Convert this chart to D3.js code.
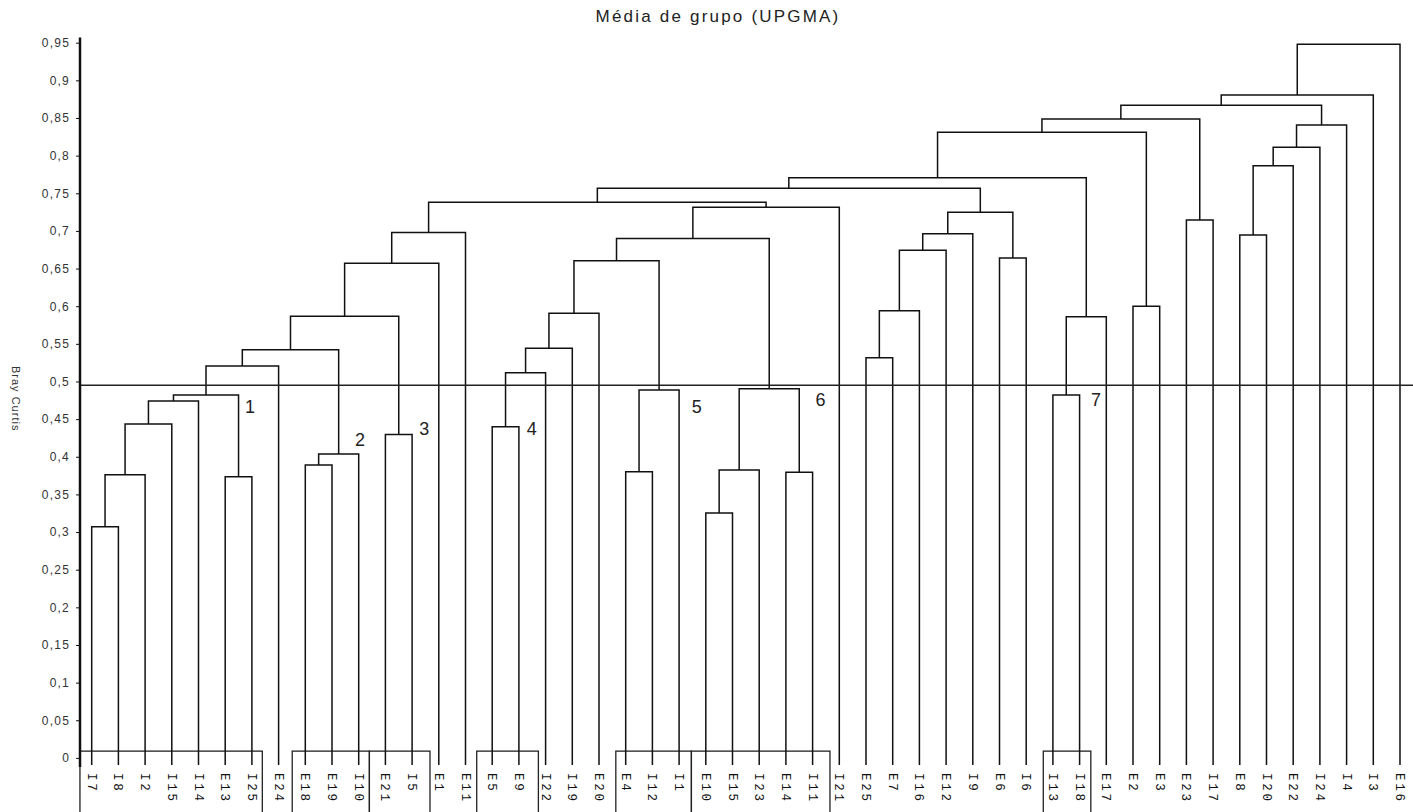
<!DOCTYPE html>
<html>
  <head>
    <meta charset="utf-8">
    <script type="text/javascript" src="https://cdn.jsdelivr.net/npm/d3@7"></script>
    <style>
      body {
        margin: 0;
        background: #fff;
      }
      .link {
        fill: none;
        stroke: #111;
        stroke-width: 1.5px;
      }
      .cut {
        stroke: #222;
        stroke-width: 1.4px;
      }
      .box {
        fill: none;
        stroke: #222;
        stroke-width: 1.3px;
      }
      .axis path,
      .axis line {
        stroke: #111;
      }
      .axis path {
        stroke-width: 2.5px;
      }
      .axis text {
        fill: #333;
        font: 12px 'Liberation Sans', Arial, sans-serif;
        letter-spacing: 1.2px;
      }
      .leaf {
        font: 12.5px 'Liberation Mono', 'Courier New', monospace;
        letter-spacing: 2.8px;
        fill: #111;
      }
      .grp {
        font: 18px 'Liberation Sans', Arial, sans-serif;
        fill: #222;
      }
      .title {
        font: 17px 'Liberation Sans', Arial, sans-serif;
        letter-spacing: 2.2px;
        fill: #222;
      }
      .ytitle {
        font: 11px 'Liberation Sans', Arial, sans-serif;
        letter-spacing: 1px;
        fill: #333;
      }
    </style>
  </head>
  <body>
    <svg id="chart"></svg>

    <script type="text/javascript">
      // leaf order along the bottom
      var leaves = ['I7', 'I8', 'I2', 'I15', 'I14', 'E13', 'I25', 'E24', 'E18', 'E19',
        'I10', 'E21', 'I5', 'E1', 'E11', 'E5', 'E9', 'I22', 'I19', 'E20',
        'E4', 'I12', 'I1', 'E10', 'E15', 'I23', 'E14', 'I11', 'I21', 'E25',
        'E7', 'I16', 'E12', 'I9', 'E6', 'I6', 'I13', 'I18', 'E17', 'E2',
        'E3', 'E23', 'I17', 'E8', 'I20', 'E22', 'I24', 'I4', 'I3', 'E16'];

      // agglomeration steps: a leaf name or the number of an earlier step
      var merges = [
        ['I7', 'I8'], [0, 'I2'], [1, 'I15'], [2, 'I14'], ['E13', 'I25'],
        [3, 4], [5, 'E24'], ['E18', 'E19'], [7, 'I10'], [6, 8],
        ['E21', 'I5'], [9, 10], [11, 'E1'], [12, 'E11'], ['E5', 'E9'],
        [14, 'I22'], [15, 'I19'], [16, 'E20'], ['E4', 'I12'], [18, 'I1'],
        [17, 19], ['E10', 'E15'], [21, 'I23'], ['E14', 'I11'], [22, 23],
        [20, 24], [25, 'I21'], [13, 26], ['E25', 'E7'], [28, 'I16'],
        [29, 'E12'], [30, 'I9'], ['E6', 'I6'], [31, 32], [27, 33],
        ['I13', 'I18'], [35, 'E17'], [34, 36], ['E2', 'E3'], [37, 38],
        ['E23', 'I17'], [39, 40], ['E8', 'I20'], [42, 'E22'], [43, 'I24'],
        [44, 'I4'], [41, 45], [46, 'I3'], [47, 'E16']];

      // Bray-Curtis distance of each step
      var mergeHeights = [
        0.307, 0.376, 0.4435, 0.474, 0.3735,
        0.482, 0.5204, 0.389, 0.4037, 0.5423,
        0.4297, 0.5866, 0.657, 0.698, 0.44,
        0.5117, 0.5441, 0.5906, 0.38, 0.4887,
        0.6605, 0.3253, 0.3825, 0.3794, 0.4902,
        0.69, 0.7315, 0.738, 0.5316, 0.594,
        0.6743, 0.6963, 0.664, 0.7248, 0.7566,
        0.482, 0.586, 0.7707, 0.6, 0.831,
        0.7146, 0.8487, 0.6946, 0.7867, 0.811,
        0.8407, 0.8669, 0.8806, 0.9478];

      var yTicks = [0, 0.05, 0.1, 0.15, 0.2, 0.25, 0.3, 0.35, 0.4, 0.45, 0.5,
        0.55, 0.6, 0.65, 0.7, 0.75, 0.8, 0.85, 0.9, 0.95];

      var cutLevel = 0.495;

      // groups cut from the tree
      var groupNames = ['1', '2', '3', '4', '5', '6', '7'];
      // box edges in leaf-index units
      var boxL = [-0.44, 7.51, 10.4, 14.42, 19.63, 22.46, 35.64];
      var boxR = [6.39, 10.4, 12.67, 16.73, 22.46, 27.65, 37.42];
      // where the group number sits (leaf index, distance)
      var groupLabelAt = [5.93, 10.05, 12.46, 16.48, 22.66, 27.3, 37.61];
      var groupLabelH = [0.4665, 0.4223, 0.4378, 0.4378, 0.4665, 0.4764, 0.4764];

      var width = 1413,
        height = 812;
      var svg = d3.select('#chart').attr('width', width).attr('height', height);

      var xIdx = d3.scaleLinear().domain([0, leaves.length - 1]).range([91.7, 1400]);
      var yScale = d3.scaleLinear().domain([0, 0.95]).range([757.9, 42.7]);
      var axisX = 80;
      var leafBottom = yScale(0) + 7;

      // build the nested tree from the merge list
      var steps = merges.map(function (m, i) {
        return {
          name: 'm' + i,
          h: mergeHeights[i],
          children: m.map(function (c) {
            return typeof c === 'number' ? null : { name: c, h: 0 };
          }),
        };
      });
      merges.forEach(function (m, i) {
        m.forEach(function (c, j) {
          if (typeof c === 'number') steps[i].children[j] = steps[c];
        });
      });
      var root = d3.hierarchy(steps[steps.length - 1]);

      // x: leaves in order, parents centred on children
      root.eachAfter(function (d) {
        if (!d.children) {
          d.px = xIdx(leaves.indexOf(d.data.name));
          d.py = leafBottom;
        } else {
          d.px = (d.children[0].px + d.children[1].px) / 2;
          d.py = yScale(d.data.h);
        }
      });

      // boxes around the groups
      svg
        .selectAll('.box')
        .data(groupNames)
        .enter()
        .append('rect')
        .attr('class', 'box')
        .attr('x', function (d, i) {
          return xIdx(boxL[i]);
        })
        .attr('y', yScale(0.009))
        .attr('width', function (d, i) {
          return xIdx(boxR[i]) - xIdx(boxL[i]);
        })
        .attr('height', 80);

      // elbow links
      svg
        .selectAll('.link')
        .data(root.descendants().filter(function (d) {
          return d.children;
        }))
        .enter()
        .append('path')
        .attr('class', 'link')
        .attr('d', function (d) {
          var a = d.children[0],
            b = d.children[1];
          return 'M' + a.px + ',' + a.py + 'V' + d.py + 'H' + b.px + 'V' + b.py;
        });

      // cut line
      svg
        .append('line')
        .attr('class', 'cut')
        .attr('x1', axisX)
        .attr('x2', width)
        .attr('y1', yScale(cutLevel))
        .attr('y2', yScale(cutLevel));

      // leaf labels, turned to read downwards
      svg
        .selectAll('.leaf')
        .data(leaves)
        .enter()
        .append('text')
        .attr('class', 'leaf')
        .attr('transform', function (d, i) {
          return 'translate(' + xIdx(i) + ',773) rotate(90)';
        })
        .attr('dy', '0.32em')
        .text(function (d) {
          return d;
        });

      // group numbers
      svg
        .selectAll('.grp')
        .data(groupNames)
        .enter()
        .append('text')
        .attr('class', 'grp')
        .attr('x', function (d, i) {
          return xIdx(groupLabelAt[i]);
        })
        .attr('y', function (d, i) {
          return yScale(groupLabelH[i]);
        })
        .attr('text-anchor', 'middle')
        .attr('dy', '0.36em')
        .text(function (d) {
          return d;
        });

      // y axis with decimal comma
      var ptBR = d3.formatLocale({ decimal: ',', thousands: '.', grouping: [3], currency: ['R$', ''] });
      var yAxis = d3
        .axisLeft(yScale)
        .tickValues(yTicks)
        .tickSize(4)
        .tickPadding(6)
        .tickFormat(ptBR.format('~g'));
      var yAx = svg
        .append('g')
        .attr('class', 'axis')
        .attr('transform', 'translate(' + axisX + ',0)')
        .call(yAxis);
      yAx.select('.domain').attr('d', 'M0,' + yScale(0.957) + 'V' + (yScale(0) + 9));

      svg
        .append('text')
        .attr('class', 'ytitle')
        .attr('transform', 'translate(12,366) rotate(90)')
        .text('Bray Curtis');

      svg
        .append('text')
        .attr('class', 'title')
        .attr('x', 718)
        .attr('y', 22)
        .attr('text-anchor', 'middle')
        .text('Média de grupo (UPGMA)');
    </script>
  </body>
</html>
